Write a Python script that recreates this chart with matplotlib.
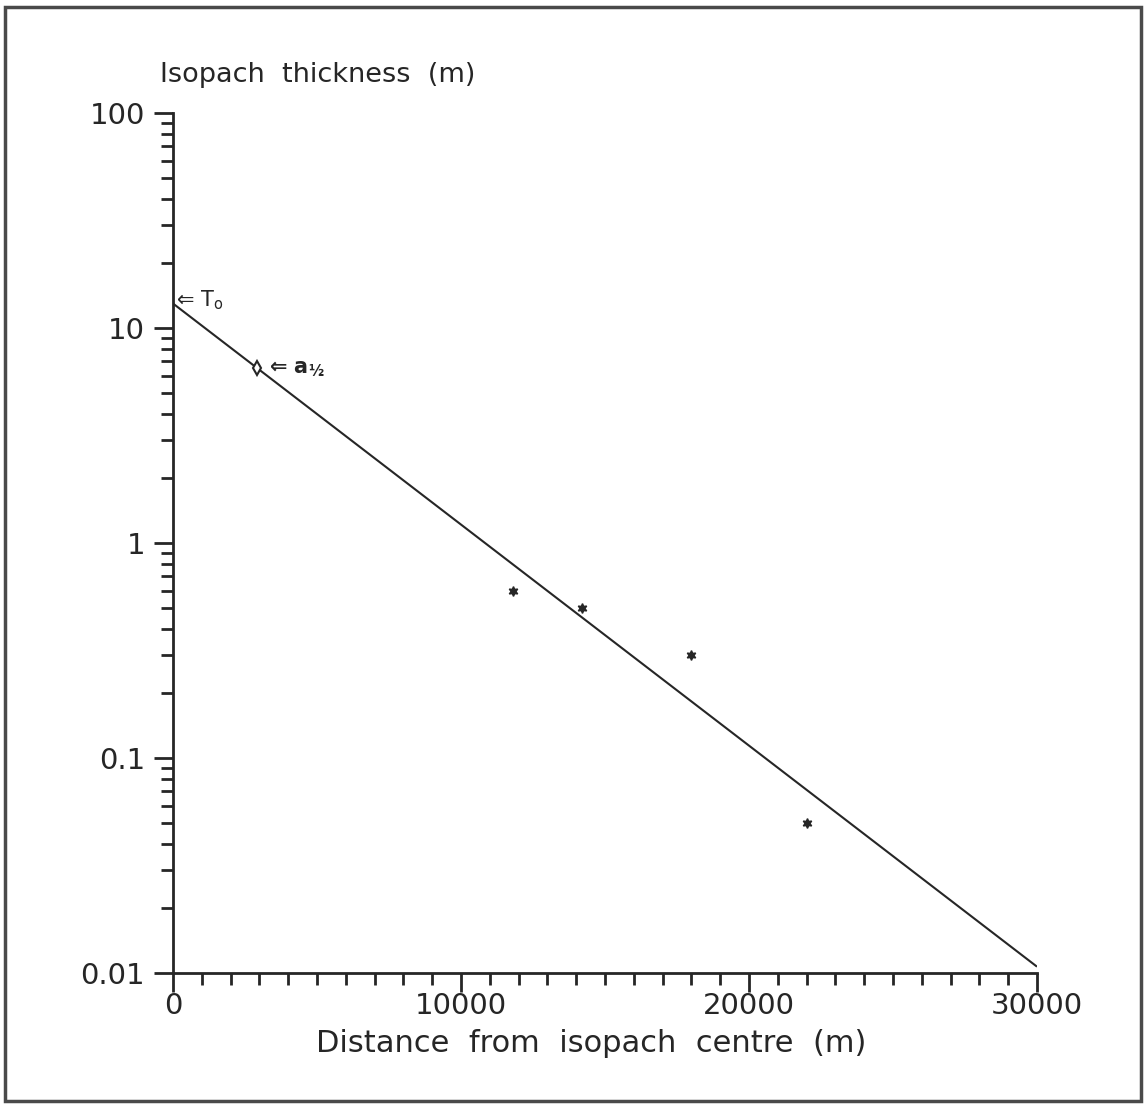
import matplotlib
matplotlib.use("Agg")
import matplotlib.pyplot as plt
from matplotlib.ticker import FixedLocator, LogLocator, NullFormatter, FixedFormatter
from matplotlib.patches import Rectangle

# data
obs_x = [11800, 14200, 18000, 22000]
obs_y = [0.6, 0.5, 0.3, 0.05]
fit_x = [0, 30000]
fit_y = [13.0, 0.0107]
half_x = [2900]
half_y = [6.5]
x_major = [0, 10000, 20000, 30000]
x_labels = ["0", "10000", "20000", "30000"]
y_major = [0.01, 0.1, 1, 10, 100]
y_labels = ["0.01", "0.1", "1", "10", "100"]

plt.rcParams['font.family'] = ['DejaVu Sans']
INK = '#262626'
fig = plt.figure(figsize=(11.45, 11.05), dpi=100)
ax = fig.add_axes([173/1145, 132/1105, 864/1145, 860/1105])

ax.plot(fit_x, fit_y, color=INK, lw=1.5, solid_capstyle='butt')
ax.plot(obs_x, obs_y, linestyle='none', marker=(6, 1, 0), ms=7, color=INK)
ax.plot(half_x, half_y, linestyle='none', marker='d', ms=7, mfc='white', mec=INK, mew=1.5)

ax.set_yscale('log')
ax.set_xlim(0, 30000)
ax.set_ylim(0.01, 100)

for s in ['top', 'right']:
    ax.spines[s].set_visible(False)
for s in ['left', 'bottom']:
    ax.spines[s].set_linewidth(2)
    ax.spines[s].set_color(INK)

ax.xaxis.set_major_locator(FixedLocator(x_major))
ax.xaxis.set_major_formatter(FixedFormatter(x_labels))
ax.xaxis.set_minor_locator(FixedLocator(list(range(0, 30001, 1000))))
ax.yaxis.set_major_locator(FixedLocator(y_major))
ax.yaxis.set_major_formatter(FixedFormatter(y_labels))
ax.yaxis.set_minor_locator(LogLocator(base=10, subs=range(2, 10)))
ax.yaxis.set_minor_formatter(NullFormatter())

ax.tick_params(which='major', length=14, width=2, color=INK, labelsize=21,
               labelcolor=INK, direction='out')
ax.tick_params(which='minor', length=8.5, width=2, color=INK, direction='out')
ax.tick_params(axis='x', which='major', pad=0)
ax.tick_params(axis='y', which='major', pad=6)

ax.set_xlabel("Distance  from  isopach  centre  (m)", fontsize=22, color=INK, labelpad=8)
ax.xaxis.set_label_coords((591 - 173) / 864, -0.065)
fig.text(160/1145, 1 - 75/1105, "Isopach  thickness  (m)", fontsize=19.5, color=INK,
         ha='left', va='center')

ax.annotate("⇐ T$_\\mathregular{o}$", xy=(0, 13.0), xytext=(3, -8),
            textcoords='offset pixels', fontsize=15, color=INK, va='bottom', ha='left')
ax.annotate("⇐ a$_\\mathregular{½}$", xy=(2900, 6.5), xytext=(12, 0),
            textcoords='offset pixels', fontsize=15, color=INK, va='center', ha='left',
            fontweight='bold')

fig.patches.append(Rectangle((5/1145, 4/1105), 1136/1145, 1094/1105, transform=fig.transFigure,
                             fill=False, ec='#4a4a4a', lw=2.5))

fig.savefig("out.png", dpi=100)
